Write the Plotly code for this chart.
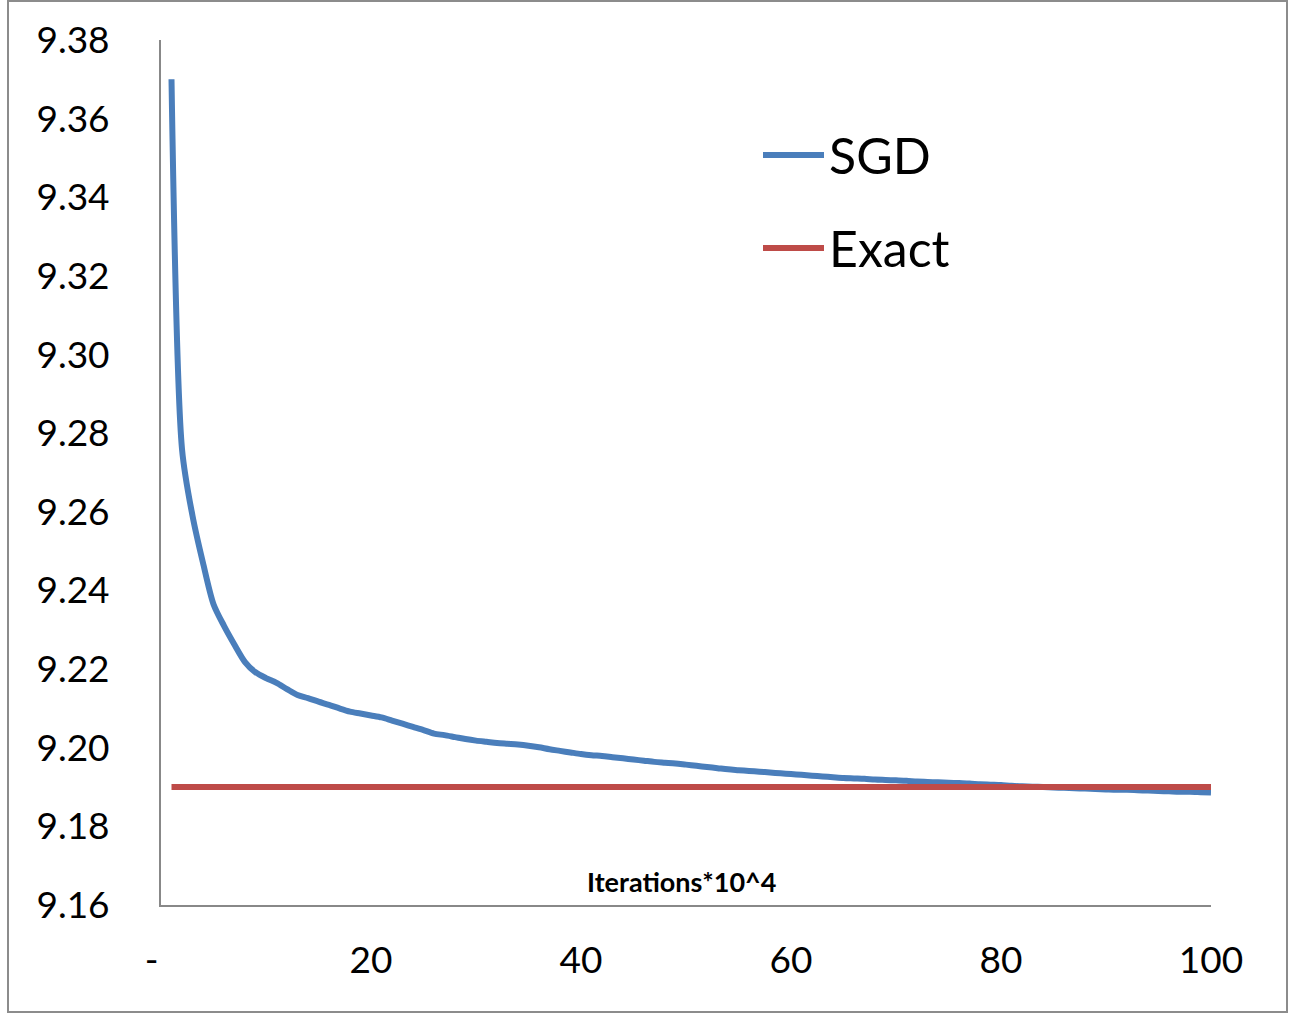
import plotly.graph_objects as go

iterations = list(range(1, 101))
sgd = [
    9.3700, 9.2760, 9.2590, 9.2470, 9.2365, 9.2310, 9.2262, 9.2218, 9.2192, 9.2177,
    9.2165, 9.2149, 9.2134, 9.2126, 9.2117, 9.2109, 9.2100, 9.2092, 9.2087, 9.2082,
    9.2077, 9.2069, 9.2061, 9.2053, 9.2045, 9.2036, 9.2032, 9.2027, 9.2022, 9.2018,
    9.2015, 9.2012, 9.2010, 9.2008, 9.2005, 9.2001, 9.1996, 9.1992, 9.1988, 9.1984,
    9.1981, 9.1979, 9.1976, 9.1973, 9.1970, 9.1967, 9.1964, 9.1962, 9.1960, 9.1957,
    9.1954, 9.1951, 9.1948, 9.1945, 9.1943, 9.1941, 9.1939, 9.1937, 9.1935, 9.1933,
    9.1931, 9.1929, 9.1927, 9.1925, 9.1923, 9.1922, 9.1921, 9.1919, 9.1918, 9.1917,
    9.1916, 9.1914, 9.1913, 9.1912, 9.1911, 9.1910, 9.1909, 9.1907, 9.1906, 9.1905,
    9.1903, 9.1902, 9.1901, 9.1900, 9.1899, 9.1898, 9.1897, 9.1896, 9.1895, 9.1894,
    9.1893, 9.1893, 9.1892, 9.1891, 9.1890, 9.1889, 9.1888, 9.1888, 9.1887, 9.1886,
]
exact = [9.19] * 100

x_tickvals = [0, 20, 40, 60, 80, 100]
x_ticktext = ["-&nbsp;&nbsp;", "20", "40", "60", "80", "100"]
y_tickvals = [9.16, 9.18, 9.20, 9.22, 9.24, 9.26, 9.28, 9.30, 9.32, 9.34, 9.36, 9.38]
y_ticktext = ["%.2f" % v for v in y_tickvals]

series_names = ["SGD", "Exact"]
series_colors = ["#4A7EBB", "#BE4B48"]

FONT = "Lato, 'Open Sans', sans-serif"

fig = go.Figure()
fig.add_trace(go.Scatter(x=iterations, y=sgd, mode="lines", name=series_names[0],
                         line=dict(color=series_colors[0], width=6, shape="spline", smoothing=0.8),
                         showlegend=False))
fig.add_trace(go.Scatter(x=iterations, y=exact, mode="lines", name=series_names[1],
                         line=dict(color=series_colors[1], width=6),
                         showlegend=False))

L, R, T, B = 161, 85, 40, 116
W, H = 1296, 1021
pw, ph = W - L - R, H - T - B

def px_x(p):
    return (p - L) / pw

def px_y(p):
    return (H - B - p) / ph

shapes = [
    # outer chart border
    dict(type="rect", xref="paper", yref="paper",
         x0=px_x(8), x1=px_x(1287), y0=px_y(1012), y1=px_y(1),
         line=dict(color="#8C8C8C", width=2), fillcolor="rgba(0,0,0,0)", layer="below"),
]
annotations = [
    dict(text="<b>Iterations*10^4</b>", xref="paper", yref="paper",
         x=px_x(681), y=px_y(881), showarrow=False,
         font=dict(family=FONT, size=27, color="black"), xanchor="center", yanchor="middle"),
]
# legend (drawn inside plot area)
legend_y = [155, 248]
for name, color, yy in zip(series_names, series_colors, legend_y):
    shapes.append(dict(type="line", xref="paper", yref="paper",
                       x0=px_x(763), x1=px_x(824), y0=px_y(yy), y1=px_y(yy),
                       line=dict(color=color, width=6)))
    annotations.append(dict(text=name, xref="paper", yref="paper",
                            x=px_x(827), y=px_y(yy), showarrow=False,
                            xanchor="left", yanchor="middle",
                            font=dict(family=FONT, size=50, color="black")))

fig.update_layout(
    width=W, height=H,
    margin=dict(l=L, r=R, t=T, b=B, pad=0),
    paper_bgcolor="white", plot_bgcolor="white",
    showlegend=False,
    shapes=shapes,
    annotations=annotations,
    font=dict(family=FONT, color="black"),
)
fig.update_xaxes(range=[0, 100], tickvals=x_tickvals, ticktext=x_ticktext,
                 showgrid=False, zeroline=False, showline=True, linecolor="#888888", linewidth=2,
                 ticks="", tickfont=dict(family=FONT, size=37, color="black"),
                 ticklabelstandoff=22)
fig.update_yaxes(range=[9.16, 9.38], tickvals=y_tickvals, ticktext=y_ticktext,
                 showgrid=False, zeroline=False, showline=True, linecolor="#888888", linewidth=2,
                 ticks="", tickfont=dict(family=FONT, size=37, color="black"),
                 ticklabelstandoff=42)

fig.write_html("out.html")
